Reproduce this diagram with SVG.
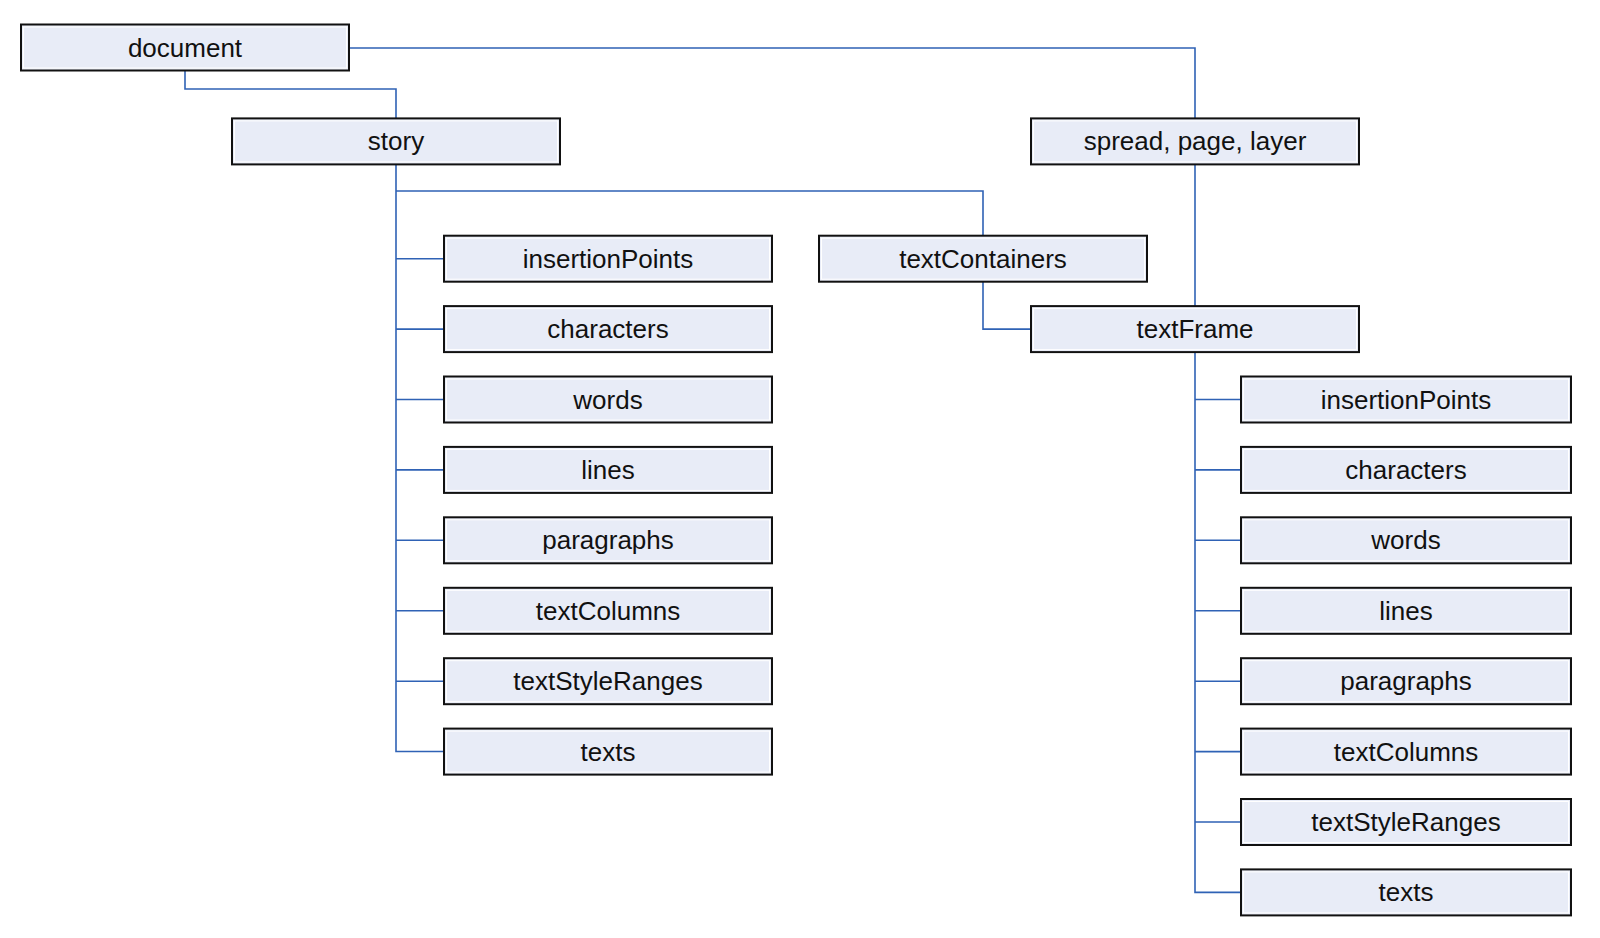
<svg xmlns="http://www.w3.org/2000/svg" width="1600" height="938" viewBox="0 0 1600 938">
<style>
.box{fill:#E8ECF7;stroke:#111;stroke-width:2}
.hl{fill:none;stroke:#fff;stroke-width:1}
.lbl{font-family:"Liberation Sans",Arial,sans-serif;font-size:26px;fill:#111;text-anchor:middle}
.con{fill:none;stroke:#2F62B5;stroke-width:1.6}
</style>
<defs>
<g id="b"><rect class="box" x="0" y="0" width="328" height="46"/><rect class="hl" x="2.5" y="2.5" width="323" height="41"/></g>
<g id="bw"><rect class="box" x="0" y="0" width="330" height="46"/><rect class="hl" x="2.5" y="2.5" width="325" height="41"/></g>
</defs>
<g id="connectors">
<path class="con" d="M185 70.5V89H396V118.5"/>
<path class="con" d="M350 48H1195V118.5"/>
<path class="con" d="M396 164.5V751.5H444"/>
<path class="con" d="M396 191H983V235.7"/>
<path class="con" d="M396 258.7H444M396 329.1H444M396 399.5H444M396 469.9H444M396 540.3H444M396 610.8H444M396 681.2H444"/>
<path class="con" d="M983 281.7V329.1H1031"/>
<path class="con" d="M1195 164.5V306.1"/>
<path class="con" d="M1195 352.1V892.4H1241"/>
<path class="con" d="M1195 399.5H1241M1195 469.9H1241M1195 540.3H1241M1195 610.8H1241M1195 681.2H1241M1195 751.6H1241M1195 822H1241"/>
</g>
<g id="document"><use href="#b" x="21" y="24.5"/><text class="lbl" x="185" y="56.5">document</text></g>
<g id="story"><use href="#b" x="232" y="118.4"/><text class="lbl" x="396" y="150.4">story</text></g>
<g id="spread"><use href="#b" x="1031" y="118.4"/><text class="lbl" x="1195" y="150.4">spread, page, layer</text></g>
<g id="textContainers"><use href="#b" x="819" y="235.7"/><text class="lbl" x="983" y="267.7">textContainers</text></g>
<g id="textFrame"><use href="#b" x="1031" y="306.1"/><text class="lbl" x="1195" y="338.1">textFrame</text></g>
<g id="s-insertionPoints"><use href="#b" x="444" y="235.7"/><text class="lbl" x="608" y="267.7">insertionPoints</text></g>
<g id="s-characters"><use href="#b" x="444" y="306.1"/><text class="lbl" x="608" y="338.1">characters</text></g>
<g id="s-words"><use href="#b" x="444" y="376.5"/><text class="lbl" x="608" y="408.5">words</text></g>
<g id="s-lines"><use href="#b" x="444" y="446.9"/><text class="lbl" x="608" y="478.9">lines</text></g>
<g id="s-paragraphs"><use href="#b" x="444" y="517.3"/><text class="lbl" x="608" y="549.3">paragraphs</text></g>
<g id="s-textColumns"><use href="#b" x="444" y="587.8"/><text class="lbl" x="608" y="619.8">textColumns</text></g>
<g id="s-textStyleRanges"><use href="#b" x="444" y="658.2"/><text class="lbl" x="608" y="690.2">textStyleRanges</text></g>
<g id="s-texts"><use href="#b" x="444" y="728.6"/><text class="lbl" x="608" y="760.6">texts</text></g>
<g id="f-insertionPoints"><use href="#bw" x="1241" y="376.5"/><text class="lbl" x="1406" y="408.5">insertionPoints</text></g>
<g id="f-characters"><use href="#bw" x="1241" y="446.9"/><text class="lbl" x="1406" y="478.9">characters</text></g>
<g id="f-words"><use href="#bw" x="1241" y="517.3"/><text class="lbl" x="1406" y="549.3">words</text></g>
<g id="f-lines"><use href="#bw" x="1241" y="587.8"/><text class="lbl" x="1406" y="619.8">lines</text></g>
<g id="f-paragraphs"><use href="#bw" x="1241" y="658.2"/><text class="lbl" x="1406" y="690.2">paragraphs</text></g>
<g id="f-textColumns"><use href="#bw" x="1241" y="728.6"/><text class="lbl" x="1406" y="760.6">textColumns</text></g>
<g id="f-textStyleRanges"><use href="#bw" x="1241" y="799"/><text class="lbl" x="1406" y="831">textStyleRanges</text></g>
<g id="f-texts"><use href="#bw" x="1241" y="869.4"/><text class="lbl" x="1406" y="901.4">texts</text></g>
</svg>
